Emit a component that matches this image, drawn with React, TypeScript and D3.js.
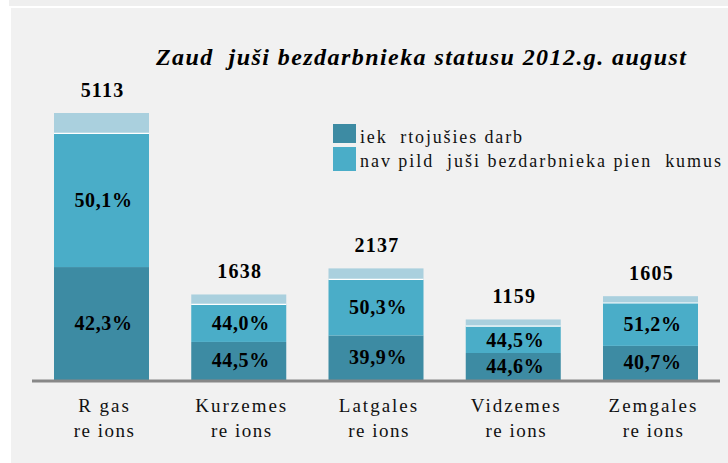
import React from "react";
import * as d3 from "d3";

const categories = ["R\u00a0gas|re\u00a0ions", "Kurzemes|re\u00a0ions", "Latgales|re\u00a0ions", "Vidzemes|re\u00a0ions", "Zemgales|re\u00a0ions"];
const totals = [5113, 1638, 2137, 1159, 1605];
const pctReturned = [42.3, 44.5, 39.9, 44.6, 40.7];
const pctNotFulfilled = [50.1, 44.0, 50.3, 44.5, 51.2];
const seriesNames = ["iek\u00a0\u00a0rtojušies darb", "nav pild\u00a0\u00a0juši bezdarbnieka pien\u00a0\u00a0kumus"];
const title = "Zaud\u00a0\u00a0juši bezdarbnieka statusu 2012.g. august";

const W = 728, H = 463;
const colors = ["#3d8ba3", "#4aadc8", "#aad0de"];
const F = "Liberation Serif";
const legendWidths = [162, 361];

export default function App() {
  const x = d3.scaleBand<number>().domain(d3.range(categories.length)).range([54, 698]).paddingInner(0.3078).paddingOuter(0);
  const baseY = 380;
  const y = d3.scaleLinear().domain([0, 5113]).range([baseY, 113]);
  const fmt = (v: number) => v.toFixed(1).replace(".", ",") + "%";

  const bars = totals.map((t, i) => {
    const a = (t * pctReturned[i]) / 100;
    const b = (t * pctNotFulfilled[i]) / 100;
    return { i, t, segs: [[0, a], [a, a + b], [a + b, t]] };
  });

  return (
    <svg width={W} height={H} style={{ position: "absolute", left: 0, top: 0, display: "block" }}>
      <rect x={0} y={0} width={W} height={H} fill="#ffffff" />
      <rect x={9} y={0} width={W - 9} height={6} fill="#efefef" />
      <rect x={11} y={8} width={W - 11} height={H - 8} fill="#f1f1f1" />
      <text x={156} y={65} fontFamily={F} fontSize={24} fontWeight="bold" fontStyle="italic" fill="#000" textLength={530} lengthAdjust="spacing">{title}</text>
      {bars.map((bar) => {
        const bx = x(bar.i)!;
        const bw = x.bandwidth();
        const cx = bx + bw / 2;
        return (
          <g key={bar.i}>
            {bar.segs.map((s, k) => (
              <rect key={k} x={bx} y={y(s[1])} width={bw} height={y(s[0]) - y(s[1])} fill={colors[k]} />
            ))}
            <line x1={bx} x2={bx + bw} y1={y(bar.segs[2][0])} y2={y(bar.segs[2][0])} stroke="#ffffff" strokeWidth={1.2} />
            <text x={cx + 1} y={y(bar.t) - 16} textAnchor="middle" fontFamily={F} fontSize={20} fontWeight="bold" letterSpacing={1.2}>{String(bar.t)}</text>
            <text x={cx + 2} y={(y(bar.segs[0][0]) + y(bar.segs[0][1])) / 2 + 6} textAnchor="middle" fontFamily={F} fontSize={20} fontWeight="bold" letterSpacing={0.6}>{fmt(pctReturned[bar.i])}</text>
            <text x={cx + 2} y={(y(bar.segs[1][0]) + y(bar.segs[1][1])) / 2 + 7} textAnchor="middle" fontFamily={F} fontSize={20} fontWeight="bold" letterSpacing={0.6}>{fmt(pctNotFulfilled[bar.i])}</text>
            {categories[bar.i].split("|").map((ln, j) => (
              <text key={j} x={cx + 3} y={412 + j * 25} textAnchor="middle" fontFamily={F} fontSize={19} letterSpacing={j === 0 ? 2 : 1.5} fill="#111">{ln}</text>
            ))}
          </g>
        );
      })}
      <line x1={32} x2={720} y1={baseY + 1} y2={baseY + 1} stroke="#888888" strokeWidth={3} />
      {seriesNames.map((n, i) => (
        <g key={i}>
          <rect x={333} y={124 + i * 23} width={23} height={i === 0 ? 19 : 24} fill={colors[i]} />
          <text x={360} y={143 + i * 24} fontFamily={F} fontSize={18} fill="#111" textLength={legendWidths[i]} lengthAdjust="spacing">{n}</text>
        </g>
      ))}
    </svg>
  );
}
